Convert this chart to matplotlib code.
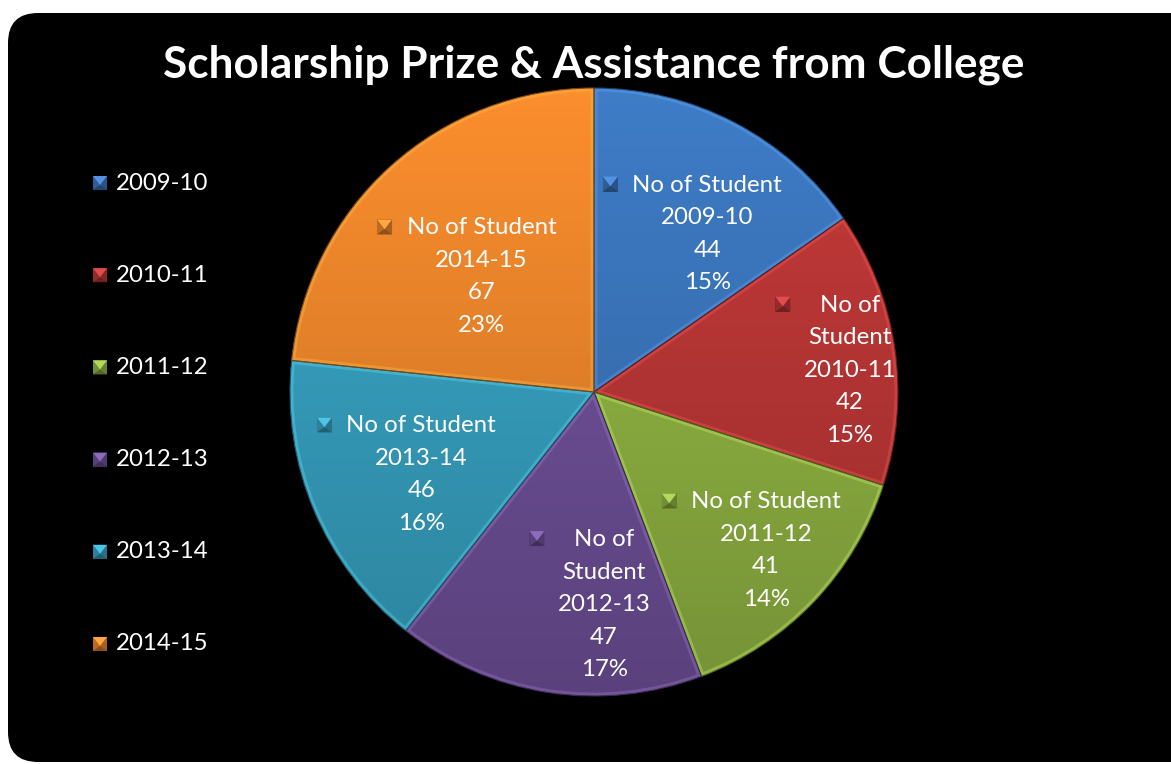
import numpy as np
import matplotlib
matplotlib.use('Agg')
import matplotlib.pyplot as plt
from matplotlib.patches import FancyBboxPatch, Polygon, Rectangle, Wedge
from matplotlib.colors import to_rgb

# ---------------- data ----------------
seasons = ['2009-10', '2010-11', '2011-12', '2012-13', '2013-14', '2014-15']
students = [44, 42, 41, 47, 46, 67]
pct_labels = ['15%', '15%', '14%', '17%', '16%', '23%']
series_name = 'No of Student'
title = 'Scholarship Prize & Assistance from College'
colors = ['#3C78C0', '#BE3837', '#93B744', '#71529C', '#38A4C4', '#F2892C']

# ---------------- layout / style ----------------
W, H = 1171, 764
FONT = 'Lato'
cx, cy, R = 594, 372, 304
label_r = [0.64, 0.845, 0.77, 0.70, 0.63, 0.53]
label_dang = [8, 3.6, -0.9, -11.5, -2.7, -2.3]
wrap = [False, True, False, True, False, False]
line_pitch = 32.5

fig = plt.figure(figsize=(W / 100, H / 100), dpi=100)
fig.patch.set_facecolor('white')
ax = fig.add_axes([0, 0, 1, 1])

# black rounded background
bg = FancyBboxPatch((8, 2), 1230, 749, boxstyle='round,pad=0,rounding_size=30',
                    fc='black', ec='none', zorder=0)
ax.add_patch(bg)

wedges, _ = ax.pie(students, startangle=90, counterclock=False, center=(cx, cy),
                   radius=R, wedgeprops=dict(linewidth=0), frame=False)
ax.set_xlim(0, W)
ax.set_ylim(0, H)
ax.set_aspect('auto')
ax.axis('off')

grad = np.linspace(1, 0, 256)[:, None, None]
for w, c in zip(wedges, colors):
    base = np.array(to_rgb(c))
    light = np.clip(base * 1.04, 0, 1)
    dark = base * 0.80
    img = light[None, None, :] * grad + dark[None, None, :] * (1 - grad)
    im = ax.imshow(img, extent=(cx - R, cx + R, cy - R, cy + R), origin='upper',
                   aspect='auto', interpolation='bilinear', zorder=2)
    im.set_clip_path(w)
    w.set_zorder(1)
    # bevel rim
    rim = Wedge(w.center, w.r, w.theta1, w.theta2, fill=False,
                ec=np.clip(base * 1.25 + 0.08, 0, 1), lw=5, alpha=0.35, zorder=3)
    ax.add_patch(rim)
    rim.set_clip_path(w)
    ol = Wedge(w.center, w.r, w.theta1, w.theta2, fill=False,
               ec=base * 0.5, lw=0.8, zorder=3)
    ax.add_patch(ol)
ax.set_xlim(0, W)
ax.set_ylim(0, H)

fig.canvas.draw()
renderer = fig.canvas.get_renderer()


def fit_size(text, target, weight='normal'):
    t = ax.text(0, 0, text, fontsize=10, family=FONT, weight=weight)
    wpx = t.get_window_extent(renderer).width
    t.remove()
    return 10 * target / wpx


fs_label = fit_size(series_name, 150)
fs_title = fit_size(title, 862, 'bold')


def bevel_square(x, y, s, color):
    base = np.array(to_rgb(color)) * 0.85
    h = s / 2
    x0, x1, y0, y1 = x - h, x + h, y - h, y + h
    apex = (x, y - 0.3 * h)
    ax.add_patch(Rectangle((x0, y0), s, s, fc=base * 0.75, ec='none', zorder=6))
    ax.add_patch(Polygon([(x0, y0), (x0, y1), apex], fc=base * 0.92, ec='none', zorder=7))
    ax.add_patch(Polygon([(x1, y0), (x1, y1), apex], fc=base * 0.82, ec='none', zorder=7))
    ax.add_patch(Polygon([(x0, y0), (x1, y0), apex], fc=base * 0.68, ec='none', zorder=7))
    ax.add_patch(Polygon([(x0, y1), (x1, y1), apex], fc=np.clip(base * 1.3 + 0.06, 0, 1),
                         ec='none', zorder=7))


# title
ax.text(594, H - 65, title, ha='center', va='center', color='white',
        fontsize=fs_title, weight='bold', family=FONT, zorder=10)

# legend
for i, (s, c) in enumerate(zip(seasons, colors)):
    yy = H - (183 + i * 92.2)
    bevel_square(100, yy, 14, c)
    ax.text(116, yy, s, ha='left', va='center', color='white',
            fontsize=fs_label, family=FONT, zorder=10)

# data labels
total = sum(students)
cum = 0
for i, v in enumerate(students):
    a = np.deg2rad((cum + v / 2) / total * 360 + label_dang[i])
    cum += v
    lx = cx + label_r[i] * R * np.sin(a)
    ly = cy + label_r[i] * R * np.cos(a)
    if wrap[i]:
        lines = series_name.split(' ', 2)
        lines = [' '.join(lines[:2]), lines[2]]
        gap = 37
    else:
        lines = [series_name]
        gap = 22
    lines = lines + [seasons[i], str(v), pct_labels[i]]
    n = len(lines)
    for j, ln in enumerate(lines):
        yy = ly + (n - 1) / 2 * line_pitch - j * line_pitch
        t = ax.text(lx, yy, ln, ha='center', va='center', color='white',
                    fontsize=fs_label, family=FONT, zorder=10)
        if j == 0:
            bb = t.get_window_extent(renderer)
            bevel_square(bb.x0 - gap, yy + 1, 15, colors[i])

fig.savefig('out.png', dpi=100, facecolor='white')
